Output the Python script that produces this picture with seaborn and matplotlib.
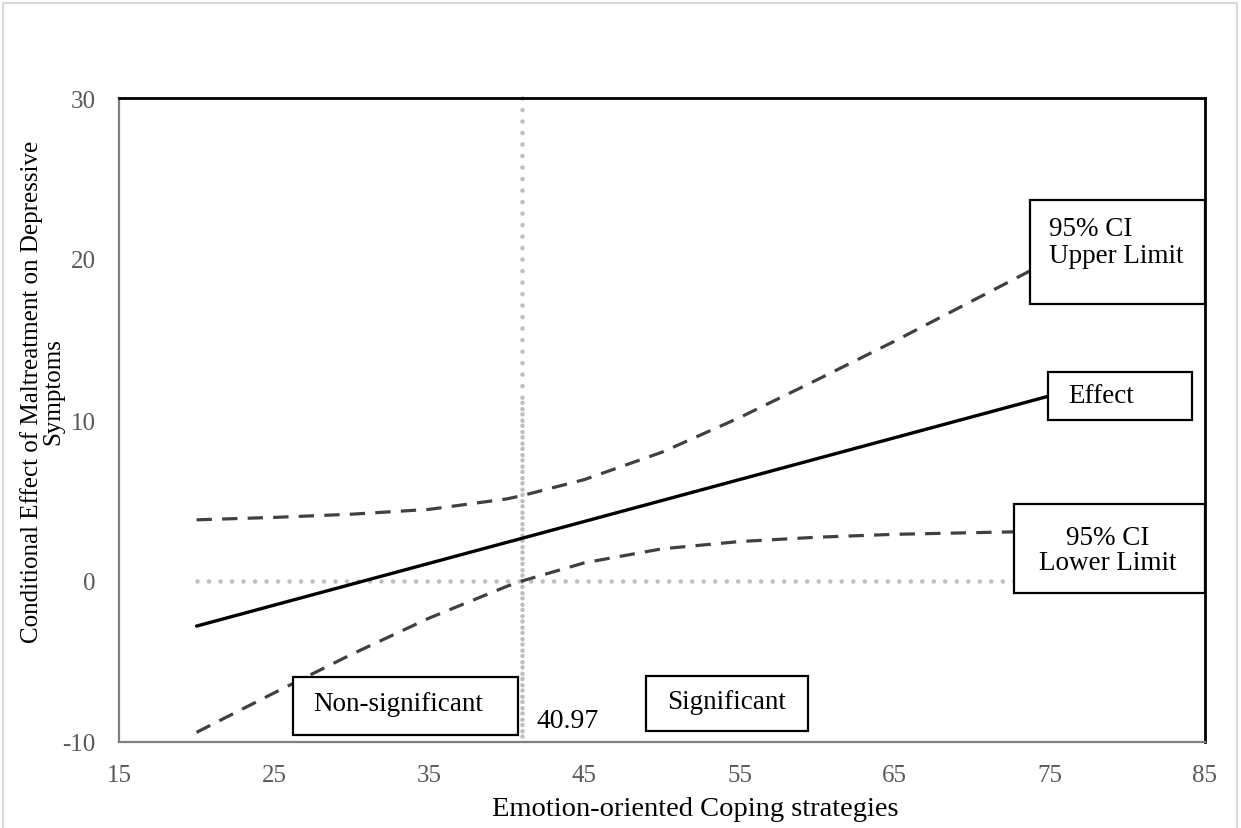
import matplotlib
matplotlib.use("Agg")
import matplotlib.pyplot as plt
from matplotlib.patches import Rectangle
import seaborn as sns
import pandas as pd

# ---- data ----
coping = [20, 25, 30, 35, 40, 40.97, 45, 50, 55, 60, 65, 70, 75]
effect = [-2.8, -1.5, -0.2, 1.1, 2.4, 2.65, 3.7, 5.0, 6.3, 7.6, 8.9, 10.2, 11.5]
ci_upper = [3.8, 3.95, 4.15, 4.45, 5.1, 5.3, 6.3, 8.0, 10.15, 12.5, 14.9, 17.4, 19.9]
ci_lower = [-9.4, -6.95, -4.55, -2.3, -0.33, 0.0, 1.13, 2.0, 2.45, 2.72, 2.9, 3.0, 3.1]
jn_point = 40.97
zero_x = [20, 75]
zero_y = [0, 0]

x_ticks = [15, 25, 35, 45, 55, 65, 75, 85]
y_ticks = [-10, 0, 10, 20, 30]

df = pd.DataFrame({"x": coping, "effect": effect, "upper": ci_upper, "lower": ci_lower})

sns.set_style("white")
plt.rcParams["font.family"] = ["Liberation Serif", "DejaVu Serif"]
plt.rcParams["axes.unicode_minus"] = False

W, H = 1241, 829
fig = plt.figure(figsize=(W / 100, H / 100), dpi=100)
ax = fig.add_axes([119 / W, 1 - 743 / H, (1205 - 119) / W, (743 - 99) / H])

# light outer frame
fig.patches.append(Rectangle((3 / W, -0.01), (1237 - 3) / W, (H - 4) / H + 0.01,
                             transform=fig.transFigure, fill=False,
                             edgecolor="#d9d9d9", lw=1.5, zorder=0))

dot_color = "#bfbfbf"
dot_style = (0, (0.01, 2.5))
# vertical JN line (two overlapping dotted series)
ax.plot([jn_point, jn_point], [30, -10], color=dot_color, lw=3.3,
        linestyle=dot_style, dash_capstyle="round", zorder=1, clip_on=False)
ax.plot([jn_point, jn_point], [-10, 11.5], color=dot_color, lw=3.3,
        linestyle=(1.2, (0.01, 2.5)), dash_capstyle="round", zorder=1, clip_on=False)
# zero line
sns.lineplot(x=zero_x, y=zero_y, ax=ax, color=dot_color, lw=3.3,
             linestyle=dot_style, dash_capstyle="round", zorder=1)

sns.lineplot(data=df, x="x", y="upper", ax=ax, color="#404040", lw=2.3,
             linestyle=(0, (4.8, 3.2)), zorder=3)
sns.lineplot(data=df, x="x", y="lower", ax=ax, color="#404040", lw=2.3,
             linestyle=(0, (4.8, 3.2)), zorder=3)
sns.lineplot(data=df, x="x", y="effect", ax=ax, color="black", lw=2.4, zorder=4)

ax.set_xlim(15, 85)
ax.set_ylim(-10, 30)
ax.set_xticks(x_ticks)
ax.set_yticks(y_ticks)
ax.tick_params(axis="both", length=0, labelsize=18, labelcolor="#595959")
ax.tick_params(axis="x", pad=16)
ax.tick_params(axis="y", pad=17)

ax.set_xlabel("Emotion-oriented Coping strategies", fontsize=20.5, color="black")
ax.xaxis.set_label_coords((695 - 119) / 1086, (743 - 797) / 644)
ax.set_ylabel("Conditional Effect of Maltreatment on Depressive\nSymptoms", fontsize=18,
              color="black", linespacing=0.95)
ax.yaxis.set_label_coords((64 - 119) / 1086, (743 - 392) / 644)

for s in ["left", "bottom"]:
    ax.spines[s].set_color("#7f7f7f")
    ax.spines[s].set_linewidth(1.6)
for s in ["top", "right"]:
    ax.spines[s].set_color("black")
    ax.spines[s].set_linewidth(2.0)


def px2data(px, py):
    return 15 + (px - 119) / ((1205 - 119) / 70), 30 - (py - 99) / ((743 - 99) / 40)


def box(x0, y0, x1, y1):
    a = px2data(x0, y1)
    b = px2data(x1, y0)
    ax.add_patch(Rectangle(a, b[0] - a[0], b[1] - a[1], fill=True, facecolor="white",
                           edgecolor="black", lw=1.6, zorder=5, clip_on=False))


def label(px, py, s, ha="left", size=19.5, ls=1.1):
    x, y = px2data(px, py)
    ax.text(x, y, s, ha=ha, va="center", fontsize=size, color="black", zorder=6,
            linespacing=ls)


box(1030, 201, 1205, 305)
label(1049, 243, "95% CI\nUpper Limit")
box(1048, 373, 1192, 421)
label(1068, 397, "Effect")
box(1014, 505, 1205, 594)
label(1108, 551, "95% CI\nLower Limit", ha="center", ls=1.05)
box(293, 678, 518, 736)
label(313, 705, "Non-significant")
box(646, 677, 808, 732)
label(727, 703, "Significant", ha="center")
label(537, 722, "40.97", size=20)

fig.savefig("out.png", dpi=100)
